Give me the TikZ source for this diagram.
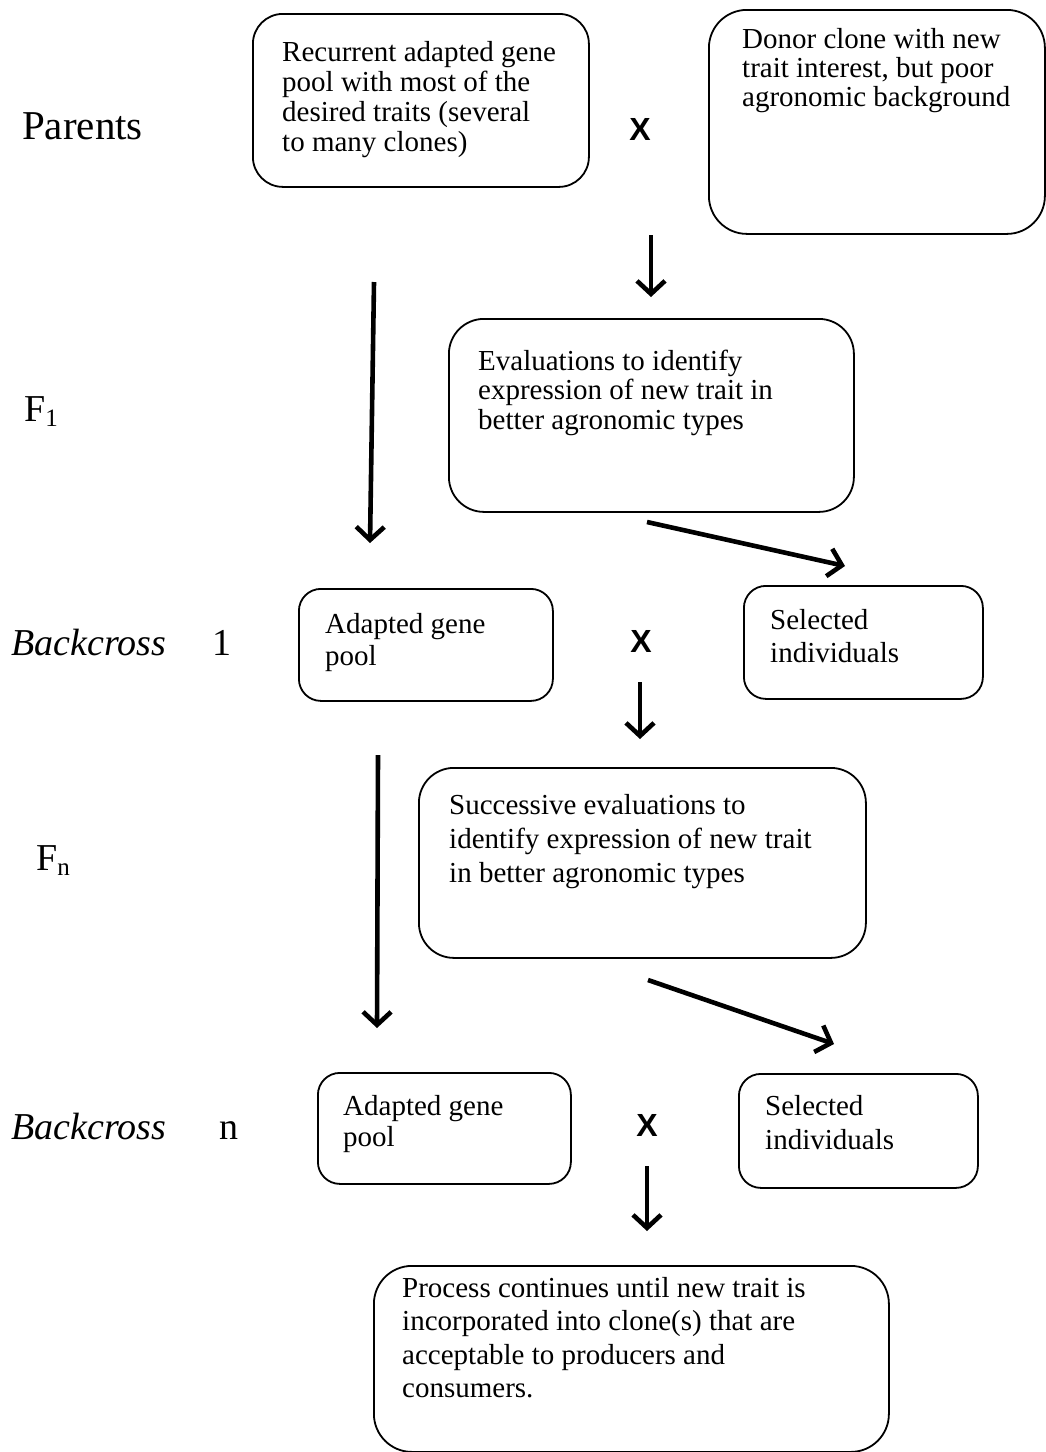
\documentclass[tikz,border=0pt]{standalone}
\usepackage{fontspec}
\setmainfont{Liberation Serif}
\newfontfamily\crossfont{Liberation Sans}
\usetikzlibrary{arrows.meta}

% multi-line box text: first baseline is the node's base, #1 = line spacing
\newcommand\cardtext[2]{\fontsize{29}{#1}\selectfont\begin{tabular}[t]{@{}l@{}}#2\end{tabular}}
% generation index written as a lowered, smaller figure
\newcommand\genidx[1]{\raisebox{-0.14em}{\fontsize{25}{25}\selectfont #1}}

\begin{document}
\begin{tikzpicture}[x=1pt,y=-1pt,
  card/.style={draw, line width=1.8pt, rounded corners=#1, inner sep=0pt,
    anchor=north west},
  card/.default=30pt,
  cardlabel/.style={anchor=base west, inner sep=0pt},
  rowlabel/.style={anchor=base west, inner sep=0pt,
    font=\fontsize{38}{40}\selectfont},
  crossmark/.style={inner sep=0pt,
    font={\crossfont\fontsize{32}{32}\selectfont}},
  flow/.style={line width=4.6pt, line cap=butt, line join=miter,
    -{Straight Barb[length=13pt,width=28pt,line width=0pt 1]}}]

\useasboundingbox (0,0) rectangle (1045,1452);

% ---- boxes ----
\node[card=30pt, minimum width=336pt, minimum height=173pt] (recur) at (252,13) {};
\node[card=38pt, minimum width=336pt, minimum height=224pt] (donor) at (708,9) {};
\node[card=35pt, minimum width=405pt, minimum height=193pt] (eval) at (448,318) {};
\node[card=22pt, minimum width=254pt, minimum height=112pt] (pool1) at (298,588) {};
\node[card=22pt, minimum width=239pt, minimum height=113pt] (sel1) at (743,585) {};
\node[card=35pt, minimum width=447pt, minimum height=190pt] (succ) at (418,767) {};
\node[card=22pt, minimum width=253pt, minimum height=111pt] (pooln) at (317,1072) {};
\node[card=22pt, minimum width=239pt, minimum height=114pt] (seln) at (738,1073) {};
\node[card=38pt, minimum width=515pt, minimum height=186pt] (proc) at (373,1265) {};

% ---- box texts ----
\node[cardlabel] (recurtxt) at (282,61) {\cardtext{30}{Recurrent adapted gene\\pool with most of the\\desired traits (several\\to many clones)}};
\node[cardlabel] (donortxt) at (742,48) {\cardtext{29}{Donor clone with new\\trait interest, but poor\\agronomic background}};
\node[cardlabel] (evaltxt) at (478,370) {\cardtext{29.5}{Evaluations to identify\\expression of new trait in\\better agronomic types}};
\node[cardlabel] (pool1txt) at (325,633) {\cardtext{32}{Adapted gene\\pool}};
\node[cardlabel] (sel1txt) at (770,629) {\cardtext{33}{Selected\\individuals}};
\node[cardlabel] (succtxt) at (449,814) {\cardtext{34}{Successive evaluations to\\identify expression of new trait\\in better agronomic types}};
\node[cardlabel] (poolntxt) at (343,1115) {\cardtext{31}{Adapted gene\\pool}};
\node[cardlabel] (selntxt) at (765,1115) {\cardtext{34}{Selected\\individuals}};
\node[cardlabel] (proctxt) at (402,1297) {\cardtext{33.5}{Process continues until new trait is\\incorporated into clone(s) that are\\acceptable to producers and\\consumers.}};

% ---- row labels ----
\node[rowlabel, font=\fontsize{41}{43}\selectfont] (parents) at (22,139) {Parents};
\node[rowlabel] (fone) at (24,421) {F\genidx{1}};
\node[rowlabel] (bcone) at (11,655) {\itshape Backcross};
\node[rowlabel] (bconeidx) at (212,655) {1};
\node[rowlabel] (fen) at (36,870) {F\genidx{n}};
\node[rowlabel] (bcn) at (11,1139) {\itshape Backcross};
\node[rowlabel] (bcnidx) at (219,1139) {n};

% ---- crosses ----
\node[crossmark] (xone) at (640,129) {\textbf{X}};
\node[crossmark] (xtwo) at (641,641) {\textbf{X}};
\node[crossmark] (xthree) at (647,1125) {\textbf{X}};

% ---- arrow ends ----
\coordinate (a1s) at (651,235);  \coordinate (a1e) at (651,297);
\coordinate (l1s) at (374,282);  \coordinate (l1e) at (370,543);
\coordinate (d1s) at (647,522);  \coordinate (d1e) at (845,566);
\coordinate (a2s) at (640,682);  \coordinate (a2e) at (640,739);
\coordinate (l2s) at (378,755);  \coordinate (l2e) at (377,1028);
\coordinate (d2s) at (648,980);  \coordinate (d2e) at (834,1044);
\coordinate (a3s) at (647,1166); \coordinate (a3e) at (647,1231);

\draw[flow] (a1s) -- (a1e);
\draw[flow] (l1s) -- (l1e);
\draw[flow] (d1s) -- (d1e);
\draw[flow] (a2s) -- (a2e);
\draw[flow] (l2s) -- (l2e);
\draw[flow] (d2s) -- (d2e);
\draw[flow] (a3s) -- (a3e);
\end{tikzpicture}
\end{document}
